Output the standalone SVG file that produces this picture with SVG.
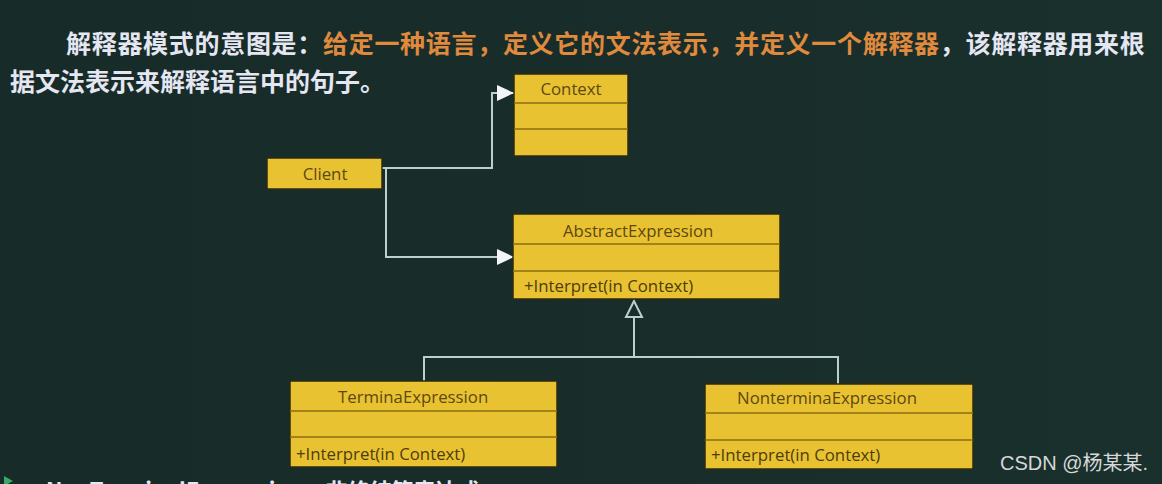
<svg xmlns="http://www.w3.org/2000/svg" width="1162" height="484" viewBox="0 0 1162 484">
<defs>
<style>
.box{fill:#e9c232;stroke:#2e2a14;stroke-width:1.5}
.div{stroke:#8a6c12;stroke-width:1.5}
.lbl{font-family:"Open Sans","Noto Sans",sans-serif;font-size:16.8px;fill:#5c4810}
.mth{font-family:"Open Sans","Noto Sans",sans-serif;font-size:16.8px;fill:#4e3c0c}
.conn{fill:none;stroke:#b9d0cf;stroke-width:2}
.title{font-family:"Noto Sans CJK SC","Noto Sans CJK JP",sans-serif;font-size:25px;font-weight:bold}
.w{fill:#e4e6f2}
.o{fill:#e08a3e}
</style>
<marker id="arr" markerUnits="userSpaceOnUse" markerWidth="18" markerHeight="18" refX="17" refY="9" orient="auto">
<path d="M0,1 L17,9 L0,17 Z" fill="#f2f6f6"/>
</marker>
<linearGradient id="bg" x1="0" y1="0" x2="1" y2="0">
<stop offset="0" stop-color="#172b28"/>
<stop offset="1" stop-color="#1a302d"/>
</linearGradient>
</defs>
<rect width="1162" height="484" fill="url(#bg)"/>

<g id="title">
<text class="title" x="66" y="53" letter-spacing="0.7"><tspan class="w">解释器模式的意图是：</tspan><tspan class="o">给定一种语言，定义它的文法表示，并定义一个解释器</tspan><tspan class="w">，该解释器用来根</tspan></text>
<text class="title w" x="10" y="91">据文法表示来解释语言中的句子。</text>
</g>

<g id="connectors">
<path class="conn" d="M382,168 H492 V93 H514" marker-end="url(#arr)"/>
<path class="conn" d="M386,168 V257 H514" marker-end="url(#arr)"/>
<path class="conn" d="M424,381 V357 H838 V384"/>
<path class="conn" d="M634,357 V317"/>
<polygon points="634,301 626,317 642,317" fill="#1a2f2c" stroke="#b9d0cf" stroke-width="2"/>
</g>

<g id="context">
<rect class="box" x="514" y="74" width="114" height="82"/>
<line class="div" x1="514" y1="103" x2="628" y2="103"/>
<line class="div" x1="514" y1="129" x2="628" y2="129"/>
<text class="lbl" x="571" y="95" text-anchor="middle">Context</text>
</g>

<g id="client">
<rect class="box" x="267" y="158" width="115" height="31"/>
<text class="lbl" x="325" y="180" text-anchor="middle">Client</text>
</g>

<g id="abstractexpression">
<rect class="box" x="513" y="214" width="267" height="85"/>
<line class="div" x1="513" y1="244" x2="780" y2="244"/>
<line class="div" x1="513" y1="271" x2="780" y2="271"/>
<text class="lbl" x="563" y="237">AbstractExpression</text>
<text class="mth" x="524" y="292">+Interpret(in Context)</text>
</g>

<g id="terminaexpression">
<rect class="box" x="290" y="381" width="267" height="86"/>
<line class="div" x1="290" y1="411" x2="557" y2="411"/>
<line class="div" x1="290" y1="437" x2="557" y2="437"/>
<text class="lbl" x="338" y="403">TerminaExpression</text>
<text class="mth" x="296" y="460">+Interpret(in Context)</text>
</g>

<g id="nonterminaexpression">
<rect class="box" x="705" y="384" width="268" height="85"/>
<line class="div" x1="705" y1="413" x2="973" y2="413"/>
<line class="div" x1="705" y1="440" x2="973" y2="440"/>
<text class="lbl" x="737" y="404">NonterminaExpression</text>
<text class="mth" x="711" y="461">+Interpret(in Context)</text>
</g>

<g id="footer">
<polygon points="4,476 13,481 4,486" fill="#3aa86a"/>
<text class="title w" x="46" y="499" style="font-size:22px">NonTerminalExpression：非终结符表达式</text>
<text x="1000" y="470" font-family="'Liberation Sans','Noto Sans CJK SC',sans-serif" font-size="20" fill="#d6d8d8">CSDN @杨某某.</text>
</g>
</svg>
